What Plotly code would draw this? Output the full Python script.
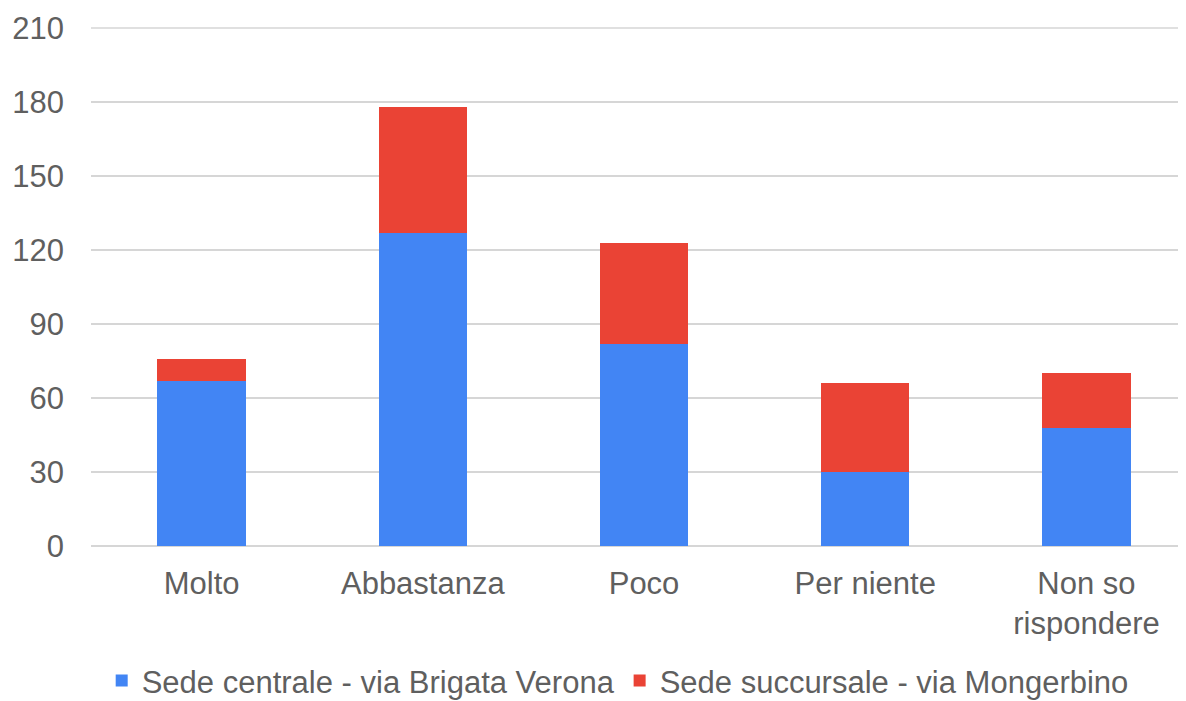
import plotly.graph_objects as go

categories = ["Molto", "Abbastanza", "Poco", "Per niente", "Non so<br>rispondere"]
sede_centrale = [67, 127, 82, 30, 48]
sede_succursale = [9, 51, 41, 36, 22]
y_ticks = [0, 30, 60, 90, 120, 150, 180, 210]

fig = go.Figure()
fig.add_trace(go.Bar(
    x=categories, y=sede_centrale,
    name="Sede centrale - via Brigata Verona",
    marker=dict(color="#4285F4", line=dict(width=0)),
))
fig.add_trace(go.Bar(
    x=categories, y=sede_succursale,
    name="Sede succursale - via Mongerbino",
    marker=dict(color="#EA4335", line=dict(width=0)),
))

# top gridline sits on the plot edge and plotly drops it, so draw it as a shape
fig.add_shape(type="line", xref="paper", x0=0, x1=1, yref="y",
              y0=y_ticks[-1], y1=y_ticks[-1], layer="below",
              line=dict(color="#d6d6d6", width=1.5))

# the page body adds an 8px margin, so the figure is a bit smaller than the window
fig.update_layout(
    barmode="stack",
    bargap=0.6,
    width=1178,
    height=693,
    margin=dict(l=83, r=0, t=19, b=155),
    plot_bgcolor="white",
    paper_bgcolor="white",
    font=dict(family="Liberation Sans, Arial, sans-serif", size=31, color="#5f5f5f"),
    legend=dict(
        orientation="h",
        xref="paper", x=0.481, xanchor="center",
        yref="container", y=0.029, yanchor="middle",
        font=dict(size=31, color="#5f5f5f"),
        traceorder="normal",
    ),
    xaxis=dict(
        range=[-0.5, 4.45],
        showgrid=False,
        showline=False,
        ticks="",
        ticklabelstandoff=16,
    ),
    yaxis=dict(
        range=[0, 210.4],
        tickvals=y_ticks,
        showgrid=True,
        gridcolor="#d6d6d6",
        gridwidth=1.5,
        zeroline=True,
        zerolinecolor="#d6d6d6",
        zerolinewidth=1.5,
        showline=False,
        ticks="",
        ticklabelstandoff=26,
    ),
)

fig.write_html("out.html")
